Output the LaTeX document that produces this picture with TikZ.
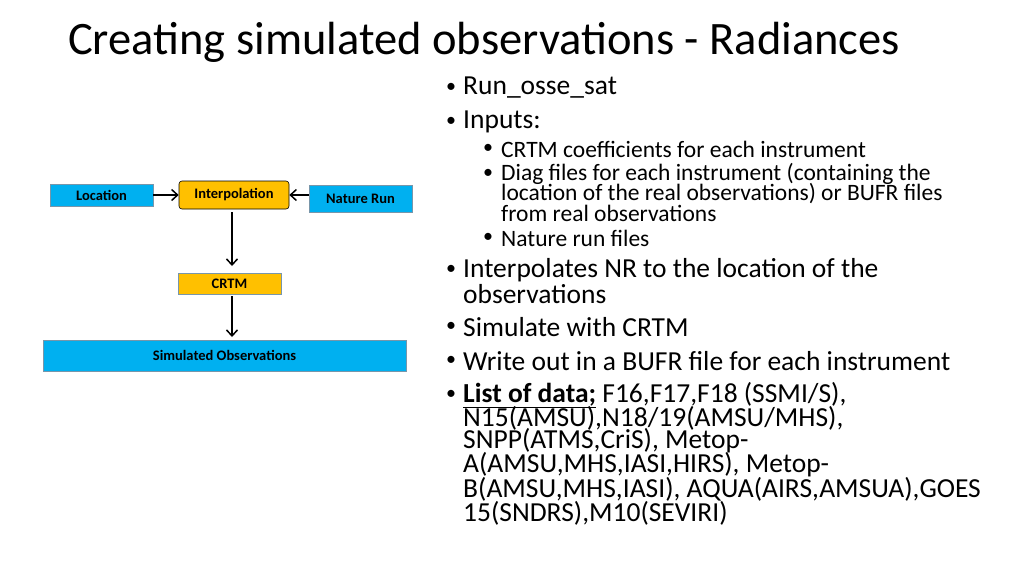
\documentclass[tikz,border=0pt]{standalone}
\usepackage{fontspec}
\setmainfont{Carlito}
\usetikzlibrary{arrows.meta}
\definecolor{cyanbox}{RGB}{0,176,240}
\definecolor{goldbox}{RGB}{255,192,0}
\definecolor{edgeb}{RGB}{120,150,170}
\begin{document}
\begin{tikzpicture}[x=1pt,y=-1pt,
  bluebox/.style={draw=edgeb,fill=cyanbox,line width=0.6pt,inner sep=0pt,font=\bfseries\fontsize{14.5}{16}\selectfont},
  goldboxs/.style={draw=edgeb,fill=goldbox,line width=0.6pt,inner sep=0pt,font=\bfseries\fontsize{14.5}{16}\selectfont},
  conn/.style={-{Straight Barb[length=6pt,width=11pt]},line width=1.5pt},
  lone/.style={anchor=west,inner sep=0pt,font=\fontsize{27.5}{30}\selectfont},
  ltwo/.style={anchor=west,inner sep=0pt,font=\fontsize{23.5}{26}\selectfont},
  bul/.style={anchor=center,inner sep=0pt,font=\fontsize{20}{22}\selectfont}]
\useasboundingbox (0,0) rectangle (1024,576);
\node[anchor=west,inner sep=0pt,font=\fontsize{46.5}{52}\selectfont] (title) at (68,42) {Creating simulated observations - Radiances};
\node[bluebox,minimum width=103pt,minimum height=22pt] (loc) at (101.5,195) {Location};
\node[goldboxs,draw=black,rounded corners=3pt,minimum width=110pt,minimum height=28pt] (interp) at (234,195) {Interpolation};
\node[bluebox,minimum width=103pt,minimum height=27pt] (nr) at (360.5,198.5) {Nature Run};
\node[goldboxs,minimum width=103pt,minimum height=21pt] (crtm) at (229.5,283.5) {CRTM};
\node[bluebox,minimum width=363pt,minimum height=31pt] (sim) at (224.5,355.5) {Simulated Observations};
\draw[conn] (loc.east) -- (interp.west);
\draw[conn] (nr.west|-interp.east) -- (interp.east);
\draw[conn] (232,212) -- (232,266);
\draw[conn] (232,296) -- (232,337);
% bullets
\foreach \y in {88,122,270,327,361,395} \node[bul] at (451,\y) {•};
\foreach \y in {149,174,238} \node[bul] at (488,\y) {•};
\node[lone] (b1) at (463,88) {Run\_osse\_sat};
\node[lone] (b2) at (463,122) {Inputs:};
\node[ltwo] (c1) at (501,149) {CRTM coefficients for each instrument};
\node[ltwo] (c2) at (501,174) {Diag files for each instrument (containing the};
\node[ltwo] (c2b) at (501,194) {location of the real observations) or BUFR files};
\node[ltwo] (c2c) at (501,213) {from real observations};
\node[ltwo] (c3) at (501,238) {Nature run files};
\node[lone] (b3) at (463,270) {Interpolates NR to the location of the};
\node[lone] (b3b) at (463,294) {observations};
\node[lone] (b4) at (463,327) {Simulate with CRTM};
\node[lone] (b5) at (463,361) {Write out in a BUFR file for each instrument};
\node[lone] (b6) at (463,395) {\underline{\textbf{List of data;}} F16,F17,F18 (SSMI/S),};
\node[lone] (b6b) at (463,418) {N15(AMSU),N18/19(AMSU/MHS),};
\node[lone] (b6c) at (463,441) {SNPP(ATMS,CriS), Metop-};
\node[lone] (b6d) at (463,465) {A(AMSU,MHS,IASI,HIRS), Metop-};
\node[lone] (b6e) at (463,489) {B(AMSU,MHS,IASI), AQUA(AIRS,AMSUA),GOES};
\node[lone] (b6f) at (463,513) {15(SNDRS),M10(SEVIRI)};
\end{tikzpicture}
\end{document}
